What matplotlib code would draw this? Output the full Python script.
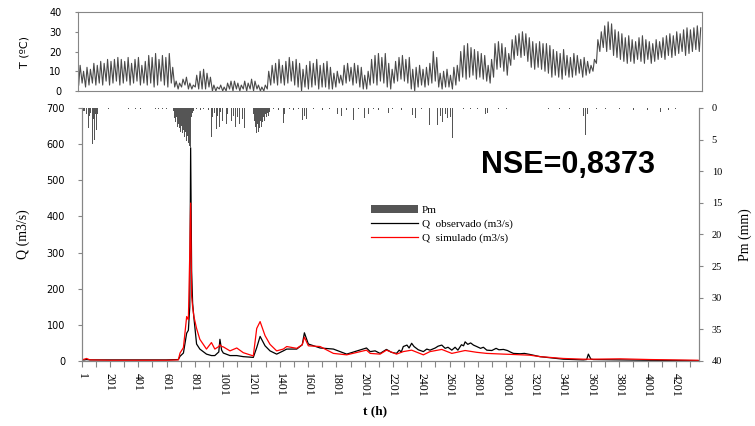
import matplotlib
matplotlib.use("Agg")
import matplotlib.pyplot as plt

# temperatura: maximas e minimas diarias (182 dias)
t_max = [13, 10, 12, 11, 14, 13, 15, 14, 16, 15,
         16, 17, 16, 15, 17, 14, 16, 17, 13, 15,
         18, 17, 19, 16, 18, 17, 19, 12, 5, 4,
         6, 7, 4, 3, 8, 10,
         11, 9, 7, 3, 2, 3, 2, 4, 5, 5, 4, 3, 5, 4, 6,
         5, 3, 2, 3, 10, 13, 14, 16, 13, 15,
         17, 15, 16, 14, 11, 13, 15, 14, 16, 13, 14,
         15, 12, 9, 10, 8, 13, 14, 12, 14, 13,
         12, 8, 10, 16, 18, 19, 17, 19, 14, 11,
         15, 17, 18, 16, 17, 11, 12, 13, 11, 12,
         14, 20, 17, 9, 10, 11,
         8, 12, 13, 20, 23, 24, 22, 21, 20, 19, 18, 13, 16, 24, 25,
         24, 22, 19, 26, 28, 29, 30, 29, 27, 25,
         24, 25, 24, 24, 23, 21, 20, 19, 21, 18, 17,
         19, 18, 16, 17, 15, 13, 16, 26, 30, 33,
         35, 34, 31, 30, 29, 27, 28, 26, 25, 27,
         28, 26, 25, 24, 26, 25, 27, 28, 29, 28,
         30, 29, 31, 32, 31, 32, 33, 32]
t_min = [3, 4, 2, 3, 4, 3, 4, 3, 5, 3,
         4, 5, 3, 4, 5, 3, 4, 5, 3, 4,
         3, 4, 2, 3, 5, 3, 2, 4, 2, 1,
         2, 3, 1, 1, 2, 1,
         1, 1, 2, 0, 0, 1, 0, 0, 1, 0, 1, 0, 1, 0, 1,
         0, 1, 0, 0, 1, 3, 4, 3, 4, 3,
         4, 5, 3, 2, 0, 2, 1, 2, 3, 1, 2,
         2, 1, 1, 2, 4, 3, 4, 5, 3, 4,
         2, 1, 1, 3, 4, 3, 5, 4, 2, 1,
         4, 5, 6, 5, 4, 1, 0, 2, 3, 2,
         3, 4, 5, 2, 1, 2,
         2, 1, 3, 5, 7, 6, 7, 8, 6, 7, 6, 5, 4, 7, 11,
         12, 10, 8, 13, 16, 18, 17, 18, 15, 12,
         11, 12, 11, 10, 9, 7, 8, 7, 6, 8, 7,
         7, 8, 9, 7, 8, 9, 10, 14, 20, 22,
         20, 21, 18, 17, 16, 15, 14, 15, 14, 16,
         15, 14, 16, 14, 15, 16, 17, 16, 18, 17,
         18, 19, 20, 18, 19, 20, 21, 20]

# caudal observado (m3/s)
obs_hours = [1, 20, 35, 60, 200, 400, 600,
             684, 696, 720, 743, 755, 765, 771, 778, 785, 794,
             813, 836, 883, 918, 942, 970, 978, 990, 1002,
             1049, 1097, 1143, 1214, 1238, 1262, 1297, 1332, 1379,
             1426, 1450, 1521, 1560, 1575, 1603, 1686, 1780, 1874,
             2014, 2040, 2075, 2110, 2155, 2190, 2226, 2245, 2260, 2274,
             2300, 2315, 2333, 2350, 2380, 2416, 2440, 2463, 2500, 2520,
             2546, 2570, 2590, 2617, 2640, 2660, 2685, 2700, 2711, 2730,
             2750, 2770, 2793, 2820, 2840, 2864, 2900, 2930, 2950, 2982,
             3010, 3030, 3052, 3100, 3130, 3170, 3241,
             3405, 3547, 3570, 3582, 3600, 3617, 3806, 4018, 4358]
q_obs = [3, 3, 4, 3, 3, 3, 3,
         4, 13, 22, 77, 85, 150, 590, 250, 160, 120,
         47, 33, 19, 15, 15, 25, 60, 30, 22,
         15, 15, 12, 10, 37, 68, 42, 28, 19,
         28, 33, 33, 45, 78, 47, 36, 33, 19,
         36, 26, 28, 21, 32, 24, 21, 30, 25, 40,
         44, 36, 49, 40, 31, 26, 33, 30, 36, 41,
         44, 35, 38, 30, 38, 30, 45, 42, 53, 46,
         50, 44, 40, 35, 38, 30, 29, 35, 31, 32,
         29, 25, 21, 20, 21, 18, 12,
         5, 3, 4, 19, 5, 4, 3, 2, 1]

# caudal simulado (m3/s)
sim_hours = [1, 20, 35, 60, 200, 400, 600,
             684, 696, 720, 743, 755, 765, 771, 778, 785, 794,
             813, 836, 883, 918, 942, 970, 978, 990, 1002,
             1049, 1097, 1143, 1214, 1238, 1262, 1297, 1332, 1379,
             1426, 1450, 1521, 1560, 1575, 1603, 1686, 1780, 1874,
             2014, 2040, 2110, 2155, 2226, 2274, 2333, 2416, 2463,
             2546, 2617, 2711, 2793, 2864, 2982, 3052, 3170, 3241,
             3405, 3547, 3570, 3582, 3600, 3617, 3806, 4018, 4358]
q_sim = [3, 5, 7, 3, 2, 2, 2,
         3, 22, 37, 123, 114, 300, 437, 180, 150, 123,
         90, 60, 33, 51, 33, 40, 45, 40, 39,
         28, 36, 23, 14, 90, 109, 70, 46, 28,
         33, 40, 35, 45, 66, 42, 40, 21, 17,
         30, 21, 19, 30, 19, 26, 30, 17, 26,
         32, 21, 29, 24, 21, 19, 18, 16, 12,
         7, 5, 5, 5, 5, 5, 6, 4, 2]

# precipitacao (mm)
pm_hours = [9, 16, 23, 35, 47, 54, 59, 66, 75, 83, 94, 100, 106, 115,
            192, 330, 378, 419, 520, 545, 570, 600,
            652, 659, 666, 673, 680, 687, 694, 701, 708, 715, 722, 729, 736,
            743, 750, 757, 764, 771, 778, 785, 792,
            815, 838, 860, 895,
            915, 922, 928, 942, 955, 964, 978, 985, 999, 1025, 1034,
            1063, 1077, 1091, 1105, 1119, 1140, 1155,
            1212, 1219, 1226, 1233, 1240, 1247, 1254, 1261, 1268, 1275,
            1282, 1289, 1296, 1303, 1310, 1317, 1324, 1331,
            1360, 1395, 1425, 1432, 1470, 1500, 1530, 1560, 1575, 1590,
            1640, 1700, 1750, 1812, 1840, 1870, 1925, 1960, 2003, 2025,
            2060, 2100, 2167, 2200, 2260, 2336, 2357, 2400, 2457,
            2514, 2535, 2549, 2570, 2584, 2605, 2624,
            2700, 2750, 2800, 2858, 2872, 2950, 3000, 3300, 3380, 3450,
            3550, 3562, 3575, 3640, 3700, 3800, 3900, 4000, 4090, 4150, 4200]
pm_mm = [0.6, 0.4, 0.5, 1.0, 3.2, 0.6, 1.2, 0.8, 5.7, 1.8, 5.0, 1.0, 3.5, 1.0,
         0.2, 0.2, 0.2, 0.2, 0.2, 0.2, 0.2, 0.2,
         0.5, 1.6, 2.2, 1.5, 3.0, 2.5, 3.2, 3.8, 2.8, 4.0, 3.5, 4.6, 3.8,
         5.2, 4.5, 5.5, 6.0, 6.3, 1.4, 0.8, 0.5,
         0.2, 0.3, 0.2, 0.3,
         4.6, 1.0, 1.5, 0.8, 3.4, 1.2, 3.0, 0.6, 2.0, 2.5, 1.0,
         2.0, 1.2, 3.0, 1.5, 2.5, 1.8, 3.2,
         1.0, 2.0, 3.0, 5.5, 4.0, 2.5, 3.8, 3.2, 2.0, 3.0,
         2.2, 1.5, 2.0, 1.0, 1.5, 0.8, 1.2, 0.6,
         0.2, 0.3, 2.4, 1.0, 0.2, 0.3, 0.2, 1.9, 1.2, 1.8,
         0.2, 0.3, 0.2, 1.0, 1.2, 0.3, 1.9, 0.2, 1.6, 1.0,
         0.2, 0.3, 0.8, 0.2, 0.3, 1.1, 1.6, 0.2, 2.7,
         2.7, 1.2, 2.2, 1.0, 1.6, 1.4, 4.7,
         0.2, 0.2, 0.2, 1.0, 0.8, 0.2, 0.2, 0.2, 0.2, 0.2,
         1.2, 4.3, 1.0, 0.2, 0.2, 0.2, 0.3, 0.3, 0.6, 0.3, 0.2]

xticks = list(range(1, 4302, 100))
xlabels = [str(v) if i % 2 == 0 else "" for i, v in enumerate(xticks)]

serif = "Liberation Serif"
sans = "DejaVu Sans"
grey = "#868686"

fig = plt.figure(figsize=(7.55, 4.26), dpi=100)

# ---- painel de temperatura
ax_t = fig.add_axes([0.1033, 0.7864, 0.8265, 0.1854])
t_x, t_y = [], []
for d in range(len(t_max)):
    t_x += [24 * d + 5, 24 * d + 15]
    t_y += [t_min[d], t_max[d]]
ax_t.plot(t_x, t_y, color="#4a4a4a", lw=0.8)
ax_t.set_xlim(0, 24 * len(t_max))
ax_t.set_ylim(0, 40)
ax_t.set_yticks([0, 10, 20, 30, 40])
ax_t.set_xticks([])
ax_t.tick_params(axis="y", length=2, color=grey, labelsize=7, pad=10)
for s in ax_t.spines.values():
    s.set_color(grey)
ax_t.set_ylabel("T (ºC)", fontsize=8, family=sans, labelpad=14)

# ---- painel de caudal
ax = fig.add_axes([0.1082, 0.1526, 0.818, 0.5939])
ax.plot(obs_hours, q_obs, color="black", lw=0.9, label="Q  observado (m3/s)")
ax.plot(sim_hours, q_sim, color="red", lw=0.9, label="Q  simulado (m3/s)")
ax.set_xlim(1, 4366)
ax.set_ylim(0, 700)
ax.set_yticks(range(0, 701, 100))
ax.set_xticks(xticks)
ax.set_xticklabels(xlabels, rotation=-90, family=serif, fontsize=8.5)
ax.tick_params(axis="y", labelsize=7, color=grey, length=3, pad=9)
ax.tick_params(axis="x", color=grey, length=4, pad=5)
ax.spines["top"].set_visible(False)
for s in ["left", "bottom", "right"]:
    ax.spines[s].set_color(grey)
ax.set_ylabel("Q (m3/s)", family=serif, fontsize=10, labelpad=12)
ax.set_xlabel("t (h)", family=serif, fontsize=9.5, fontweight="bold")
ax.xaxis.set_label_coords(0.475, -0.175)

ax2 = ax.twinx()
ax2.bar(pm_hours, pm_mm, width=7, color="#555555", label="Pm")
ax2.set_ylim(40, 0)
ax2.set_yticks(range(0, 41, 5))
ax2.tick_params(axis="y", labelsize=7.5, color=grey, length=3, pad=6)
for lab in ax2.get_yticklabels():
    lab.set_family(serif)
ax2.spines["top"].set_visible(False)
for s in ["left", "bottom", "right"]:
    ax2.spines[s].set_color(grey)
ax2.set_ylabel("Pm (mm)", family=serif, fontsize=10, labelpad=12)

h1, l1 = ax2.get_legend_handles_labels()
h2, l2 = ax.get_legend_handles_labels()
ax2.legend(h1 + h2, l1 + l2, loc="upper left", bbox_to_anchor=(0.452, 0.655),
           frameon=False, prop={"family": serif, "size": 8},
           handlelength=4.2, handletextpad=0.4, labelspacing=0.35)

ax2.text(0.787, 0.775, "NSE=0,8373", transform=ax2.transAxes, ha="center",
         va="center", fontsize=22, fontweight="bold", family="Liberation Sans")

fig.savefig("out.png", dpi=100)
